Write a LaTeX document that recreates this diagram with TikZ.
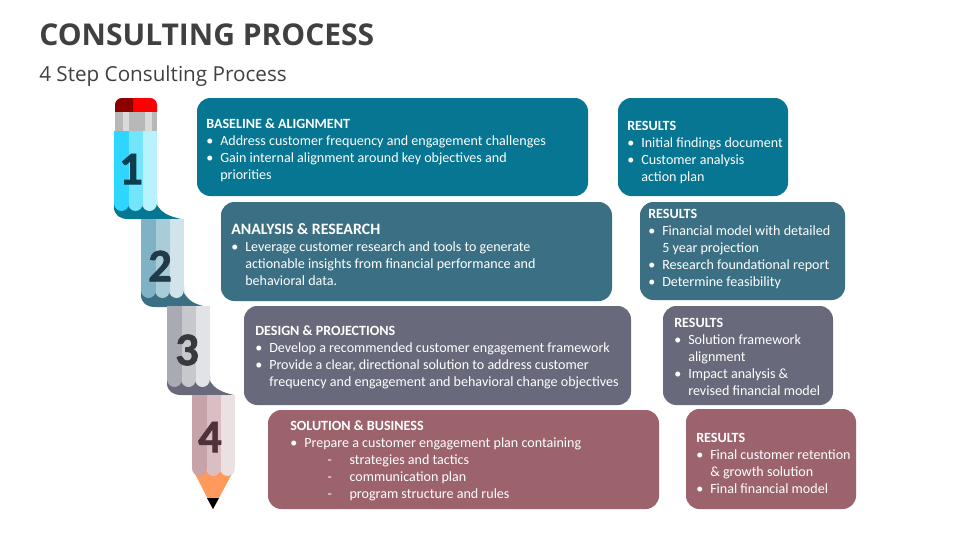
\documentclass[tikz,border=0pt]{standalone}
\usepackage{fontspec}
\setmainfont{Carlito}
\newfontfamily\titlefont{Open Sans}
\newfontfamily\numfont[BoldFeatures={FakeBold=1.5}]{Carlito}
\definecolor{tA}{HTML}{077692}\definecolor{tB}{HTML}{3B7084}\definecolor{tC}{HTML}{686A7B}\definecolor{tD}{HTML}{9C636C}
\definecolor{ttl}{HTML}{404040}
\definecolor{aA}{HTML}{2FD6FF}\definecolor{aB}{HTML}{72E4FC}\definecolor{aC}{HTML}{B8F2FF}
\definecolor{bA}{HTML}{7FB2C5}\definecolor{bB}{HTML}{A9CCD9}\definecolor{bC}{HTML}{D2E4EB}
\definecolor{cA}{HTML}{A9ABB4}\definecolor{cB}{HTML}{C6C8CE}\definecolor{cC}{HTML}{E2E3E7}
\definecolor{dA}{HTML}{C5A3A9}\definecolor{dB}{HTML}{D9BFC3}\definecolor{dC}{HTML}{EBE0E2}
\definecolor{nA}{HTML}{0B3F4F}\definecolor{nB}{HTML}{1F3B48}\definecolor{nC}{HTML}{38383F}\definecolor{nD}{HTML}{4F3239}
\definecolor{cone}{HTML}{FF9A5C}
\newcommand{\bul}[1]{\makebox[10.5pt][l]{•}#1}
\newcommand{\ind}[1]{\hspace*{10.5pt}#1}
\newcommand{\dsh}[1]{\hspace*{28pt}\makebox[16.5pt][l]{-}#1}
% stripe x1 x2 top bottom colour
\newcommand{\stripe}[5]{\fill[#5] (#1,#3) -- (#1,#4-8) arc[start angle=180,end angle=360,x radius=5.6pt,y radius=6pt] -- (#2,#3) -- cycle;}
% body x top bottom c1 c2 c3
\newcommand{\pbody}[6]{%
 \stripe{#1+28}{#1+43}{#2}{#3}{#6}
 \stripe{#1+14}{#1+29}{#2}{#3}{#5}
 \stripe{#1}{#1+15}{#2}{#3}{#4}}
% swoosh x bottom tipx colour
\newcommand{\swoosh}[4]{\fill[#4] (#1,#2-20) -- (#1,#2-12) .. controls (#1,#2-4) and (#1+6,#2) .. (#1+14,#2) -- (#3,#2) .. controls (#3-13,#2-3) and (#1+48,#2-6) .. (#1+43,#2-14) -- (#1+43,#2-20) -- cycle;}
\tikzset{
 x=.75pt,y=-.75pt,
 panel/.style={fill=#1,rounded corners=10pt},
 txt/.style={anchor=north west,inner sep=0pt,align=left,text=white,font=\fontsize{10.55}{12.75}\selectfont},
 numeral/.style={font=\fontsize{35}{35}\selectfont\numfont\bfseries},
}
\begin{document}
\begin{tikzpicture}
\useasboundingbox (0,0) rectangle (960,540);
\fill[white] (0,0) rectangle (960,540);
\node[anchor=base west,inner sep=0pt,text=ttl,font=\fontsize{22.5}{28}\selectfont\titlefont\bfseries] (title) at (39,45.5) {CONSULTING PROCESS};
\node[anchor=base west,inner sep=0pt,text=ttl,font=\fontsize{15.5}{18}\selectfont\titlefont] (subtitle) at (39,81) {4 Step Consulting Process};
% pencil 1
\fill[red] (133,112) -- (133,98) -- (150,98) .. controls (154,98) and (157,101) .. (157,105) -- (157,112) -- cycle;
\fill[red!55!black] (133,112) -- (133,98) -- (122,98) .. controls (118,98) and (115,101) .. (115,105) -- (115,112) -- cycle;
\fill[black!28] (115,112) rectangle (157,132);
\fill[black!15] (123,112) rectangle (129,132);
\fill[black!15] (145,112) rectangle (152,132);
\swoosh{114}{219}{181}{tA}
\pbody{114}{131}{211}{aA}{aB}{aC}
% pencil 2
\swoosh{141}{307}{207}{tB}
\pbody{141}{219}{298}{bA}{bB}{bC}
% pencil 3
\swoosh{167}{395}{234}{tC}
\pbody{167}{306}{387}{cA}{cB}{cC}
% pencil 4
\fill[cone] (193,470) -- (234,470) -- (213,509) -- cycle;
\fill[black] (207,498) -- (219,498) -- (213,509) -- cycle;
\pbody{192}{395}{476}{dA}{dB}{dC}
\node[numeral,text=nA] (n1) at (131,169) {1};
\node[numeral,text=nB] (n2) at (160,266) {2};
\node[numeral,text=nC] (n3) at (187,350) {3};
\node[numeral,text=nD] (n4) at (210,437) {4};
% boxes
\path[panel=tA] (197,98) rectangle (588,196);
\path[panel=tB] (221,202) rectangle (612,301);
\path[panel=tC] (244,306) rectangle (631,405);
\path[panel=tD] (268,410) rectangle (659,509);
\path[panel=tA] (618,98) rectangle (788,196);
\path[panel=tB] (640,202) rectangle (845,300);
\path[panel=tC] (663,306) rectangle (833,405);
\path[panel=tD] (686,409) rectangle (856,509);
% texts
\node[txt] (a) at (206,119) {\textbf{BASELINE \& ALIGNMENT}\\\bul{Address customer frequency and engagement challenges}\\\bul{Gain internal alignment around key objectives and}\\\ind{priorities}};
\node[txt] (b) at (231,223.5) {{\fontsize{11.9}{12.75}\selectfont\textbf{ANALYSIS \& RESEARCH}}\\\bul{Leverage customer research and tools to generate}\\\ind{actionable insights from financial performance and}\\\ind{behavioral data.}};
\node[txt] (c) at (255,326) {\textbf{DESIGN \& PROJECTIONS}\\\bul{Develop a recommended customer engagement framework}\\\bul{Provide a clear, directional solution to address customer}\\\ind{frequency and engagement and behavioral change objectives}};
\node[txt] (d) at (290,421) {\textbf{SOLUTION \& BUSINESS}\\\bul{Prepare a customer engagement plan containing}\\\dsh{strategies and tactics}\\\dsh{communication plan}\\\dsh{program structure and rules}};
\node[txt] (ra) at (627,121) {\textbf{RESULTS}\\\bul{Initial findings document}\\\bul{Customer analysis}\\\ind{action plan}};
\node[txt] (rb) at (648,209) {\textbf{RESULTS}\\\bul{Financial model with detailed}\\\ind{5 year projection}\\\bul{Research foundational report}\\\bul{Determine feasibility}};
\node[txt] (rc) at (674,318) {\textbf{RESULTS}\\\bul{Solution framework}\\\ind{alignment}\\\bul{Impact analysis \&}\\\ind{revised financial model}};
\node[txt] (rd) at (696,433) {\textbf{RESULTS}\\\bul{Final customer retention}\\\ind{\& growth solution}\\\bul{Final financial model}};
\end{tikzpicture}
\end{document}
